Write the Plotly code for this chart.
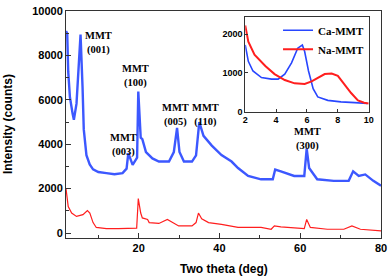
import plotly.graph_objects as go

# ---- main pattern data ----
ca_x = [2.0, 2.3, 2.55, 2.97, 3.63, 3.95, 4.6, 5.0, 5.6, 6.1, 6.4, 7.06, 7.87, 8.7, 10, 12, 14, 16, 17.0,
        17.43, 18.5, 19.6, 19.9, 20.5, 20.9, 21.8, 23.4, 25.0, 27.5, 28.7, 29.5, 30.1, 31.2, 33.2, 34.2,
        35.0, 36.05, 38.1, 40.5, 43.0, 44.6, 47.1, 50.3, 53.2, 53.8, 55.2, 58.5, 61.0, 61.6, 62.2, 64.2,
        68.3, 72.0, 73.1, 74.5, 76.1, 78.1, 80.0]
ca_y = [9100, 9000, 7270, 6120, 5390, 5100, 5830, 7270, 8940, 6560, 4670, 3510, 3090, 2870, 2750, 2700, 2650, 2700, 2900,
        3600, 3070, 3400, 6380, 4300, 4230, 3650, 3360, 3220, 3220, 3650, 4740, 3650, 3220, 3220, 3500,
        5000, 4380, 3940, 3510, 3220, 2930, 2570, 2420, 2420, 2860, 2780, 2570, 2570, 3800, 2930, 2420,
        2350, 2350, 2780, 2570, 2640, 2350, 2130]

na_x = [2.0, 2.55, 3.4, 4.6, 6.2, 7.3, 7.9, 8.7, 9.5, 12, 15, 18, 19.5, 19.9, 20.5, 20.9, 22.2, 22.6, 25.0,
        27.1, 28.3, 29.9, 33.2, 34.2, 34.8, 35.6, 37.3, 40.5, 44.6, 50.3, 52.8, 53.6, 55.2, 61.0, 61.6,
        62.5, 66.7, 70.8, 72.8, 74.9, 80.0]
na_y = [2000, 1190, 900, 750, 830, 1010, 900, 470, 250, 200, 200, 200, 220, 1550, 900, 680, 610, 470, 430,
        610, 490, 320, 320, 470, 900, 640, 470, 390, 250, 250, 170, 320, 280, 200, 610,
        250, 170, 170, 320, 170, 100]

# ---- inset data (low angle) ----
ica_x = [2.0, 2.2, 2.5, 3.05, 3.7, 4.13, 4.56, 5.0, 5.4, 5.7, 5.85, 6.1, 6.4, 6.7, 7.35, 8.2, 9.1, 9.9]
ica_y = [1725, 1300, 1050, 880, 840, 840, 970, 1260, 1640, 1720, 1555, 1050, 590, 380, 290, 250, 230, 210]
ina_x = [2.0, 2.2, 2.6, 3.3, 3.9, 4.56, 5.2, 5.85, 6.3, 6.7, 7.15, 7.6, 8.0, 8.4, 8.86, 9.3, 9.7, 10.0]
ina_y = [2230, 1810, 1470, 1180, 970, 815, 730, 715, 780, 880, 970, 985, 925, 715, 480, 290, 230, 210]

labels = ["MMT<br>(001)", "MMT<br>(003)", "MMT<br>(100)", "MMT<br>(005)", "MMT<br>(110)", "MMT<br>(300)"]
label_x = [10.0, 16.3, 19.3, 29.2, 36.5, 61.8]
label_y = [8570, 3950, 7090, 5300, 5300, 4250]

BLUE = "rgb(40,70,255)"
RED = "rgb(255,30,30)"
AX = "#333333"
sans = dict(family="Liberation Sans", size=11, color="black", weight="bold")
sans_small = dict(family="Liberation Sans", size=9, color="black", weight="bold")
serif = dict(family="Liberation Serif", size=10.5, color="black", weight="bold")

fig = go.Figure()
fig.add_trace(go.Scatter(x=ca_x, y=ca_y, mode="lines", line=dict(color=BLUE, width=2.4),
                         opacity=0.9, showlegend=False, xaxis="x", yaxis="y"))
fig.add_trace(go.Scatter(x=na_x, y=na_y, mode="lines", line=dict(color=RED, width=1.2),
                         showlegend=False, xaxis="x", yaxis="y"))
fig.add_trace(go.Scatter(x=ica_x, y=ica_y, mode="lines", name="Ca-MMT",
                         line=dict(color=BLUE, width=1.6), xaxis="x2", yaxis="y2"))
fig.add_trace(go.Scatter(x=ina_x, y=ina_y, mode="lines", name="Na-MMT",
                         line=dict(color=RED, width=2.0), xaxis="x2", yaxis="y2"))

annotations = []
for t, x, y in zip(labels, label_x, label_y):
    annotations.append(dict(text=t, x=x, y=y, xref="x", yref="y", showarrow=False,
                            font=serif, align="center"))
annotations.append(dict(text="Intensity (counts)", x=-0.1855, y=0.5, xref="paper", yref="paper",
                        xanchor="center", yanchor="middle",
                        textangle=-90, showarrow=False, font=dict(family="Liberation Sans", size=12,
                                                                  color="black", weight="bold")))
annotations.append(dict(text="Two theta (deg)", x=0.5, y=-0.136, xref="paper", yref="paper",
                        xanchor="center", yanchor="middle",
                        showarrow=False, font=dict(family="Liberation Sans", size=12,
                                                   color="black", weight="bold")))

fig.update_layout(
    width=392, height=279,
    margin=dict(l=66, r=8, t=5, b=41),
    paper_bgcolor="white", plot_bgcolor="white",
    annotations=annotations,
    xaxis=dict(range=[2, 80], tick0=0, dtick=20, ticks="inside", ticklen=5, tickcolor=AX,
               showline=True, linecolor=AX, linewidth=1, mirror=True, showgrid=False, zeroline=False,
               tickfont=sans, minor=dict(dtick=10, ticks="inside", ticklen=3, tickcolor=AX)),
    yaxis=dict(range=[-225, 10005], tick0=0, dtick=2000, tickformat="d", ticks="inside", ticklen=5,
               tickcolor=AX, showline=True, linecolor=AX, linewidth=1, mirror=True, showgrid=False,
               zeroline=False, tickfont=sans, ticklabeloverflow="allow",
               minor=dict(dtick=1000, ticks="inside", ticklen=3, tickcolor=AX)),
    xaxis2=dict(domain=[0.569, 0.961], anchor="y2", range=[2, 10], dtick=2, ticks="inside", ticklen=3,
                tickcolor=AX, showline=True, linecolor=AX, linewidth=1, mirror=True, showgrid=False,
                zeroline=False, tickfont=sans_small),
    yaxis2=dict(domain=[0.557, 0.974], anchor="x2", range=[0, 2450], dtick=1000, tickformat="d",
                ticks="inside", ticklen=3, tickcolor=AX, showline=True, linecolor=AX, linewidth=1,
                mirror=True, showgrid=False, zeroline=False, tickfont=sans_small),
    legend=dict(x=0.962, y=0.979, xanchor="right", yanchor="top", bgcolor="rgba(0,0,0,0)",
                font=dict(family="Liberation Serif", size=11, color="black", weight="bold"),
                itemwidth=30, tracegroupgap=0),
)

fig.write_html("out.html", config={"displayModeBar": False},
               post_script="document.body.style.margin='0';")
